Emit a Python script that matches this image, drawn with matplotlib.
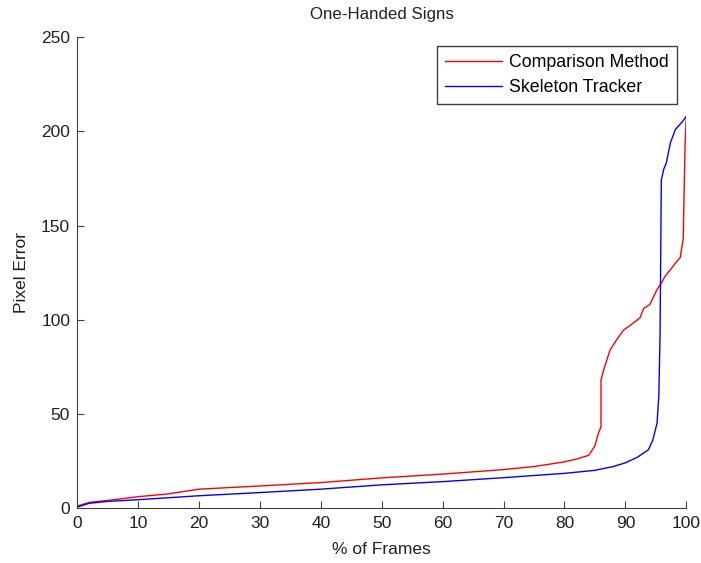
import matplotlib.pyplot as plt

comp_x = [0, 1, 2, 5, 10, 15, 20, 30, 40, 50, 60, 70, 75, 80, 82, 84, 85, 85.6, 86, 86, 86.5,
          87.5, 88.5, 89.7, 91, 92.4, 93, 94, 95.2, 96, 96.5, 97.5, 98.2, 99, 99.5, 99.6, 99.8, 100]
comp_y = [1, 2, 3, 4, 6, 7.5, 10, 11.7, 13.5, 16, 18, 20.4, 22, 24.5, 26, 28, 33, 40, 43, 68, 74,
          84, 89, 94.5, 97.5, 101, 106, 108, 116, 120, 123, 127, 130, 133, 143, 160, 193, 208]

skel_x = [0, 1, 2, 5, 10, 20, 30, 40, 50, 60, 70, 80, 85, 88, 90, 92, 93.8, 94.5, 95.2, 95.5,
          95.7, 95.9, 96.3, 96.7, 97.4, 98.2, 99.3, 100]
skel_y = [0.5, 1.5, 2.5, 3.5, 4.4, 6.5, 8.2, 10, 12.3, 14, 16.1, 18.4, 20, 22, 24, 27, 31, 36, 45, 60,
          93, 174, 180, 183, 194, 201, 205, 208]

plt.rcParams['font.family'] = ['Liberation Sans', 'DejaVu Sans']

fig = plt.figure(figsize=(7.01, 5.63), dpi=100)
ax = fig.add_axes([0.110, 0.0977, 0.869, 0.836])

ax.plot(comp_x, comp_y, color='red', lw=1, label='Comparison Method')
ax.plot(skel_x, skel_y, color='blue', lw=1, label='Skeleton Tracker')

ax.set_xlim(0, 100)
ax.set_ylim(0, 250)
ax.set_xticks(range(0, 101, 10))
ax.set_yticks(range(0, 251, 50))
for s in ['top', 'right']:
    ax.spines[s].set_visible(False)
for s in ['left', 'bottom']:
    ax.spines[s].set_color('#404040')
ax.tick_params(direction='in', length=5, labelsize=12.5, color='#404040', labelcolor='#202020')
ax.tick_params(axis='x', pad=6)
ax.tick_params(axis='y', pad=5)

ax.set_xlabel('% of Frames', fontsize=12.5, labelpad=8, color='#202020')
ax.set_ylabel('Pixel Error', fontsize=12.5, labelpad=9, color='#202020')
ax.set_title('One-Handed Signs', fontsize=12.2, pad=13, color='#202020')

leg = ax.legend(loc='upper right', bbox_to_anchor=(0.985, 0.981), borderaxespad=0,
                fontsize=12.8, fancybox=False, edgecolor='#404040', framealpha=1,
                handlelength=3.2, handletextpad=0.4, borderpad=0.45, labelspacing=0.45)
leg.get_frame().set_linewidth(1)

fig.savefig('out.png', dpi=100)
